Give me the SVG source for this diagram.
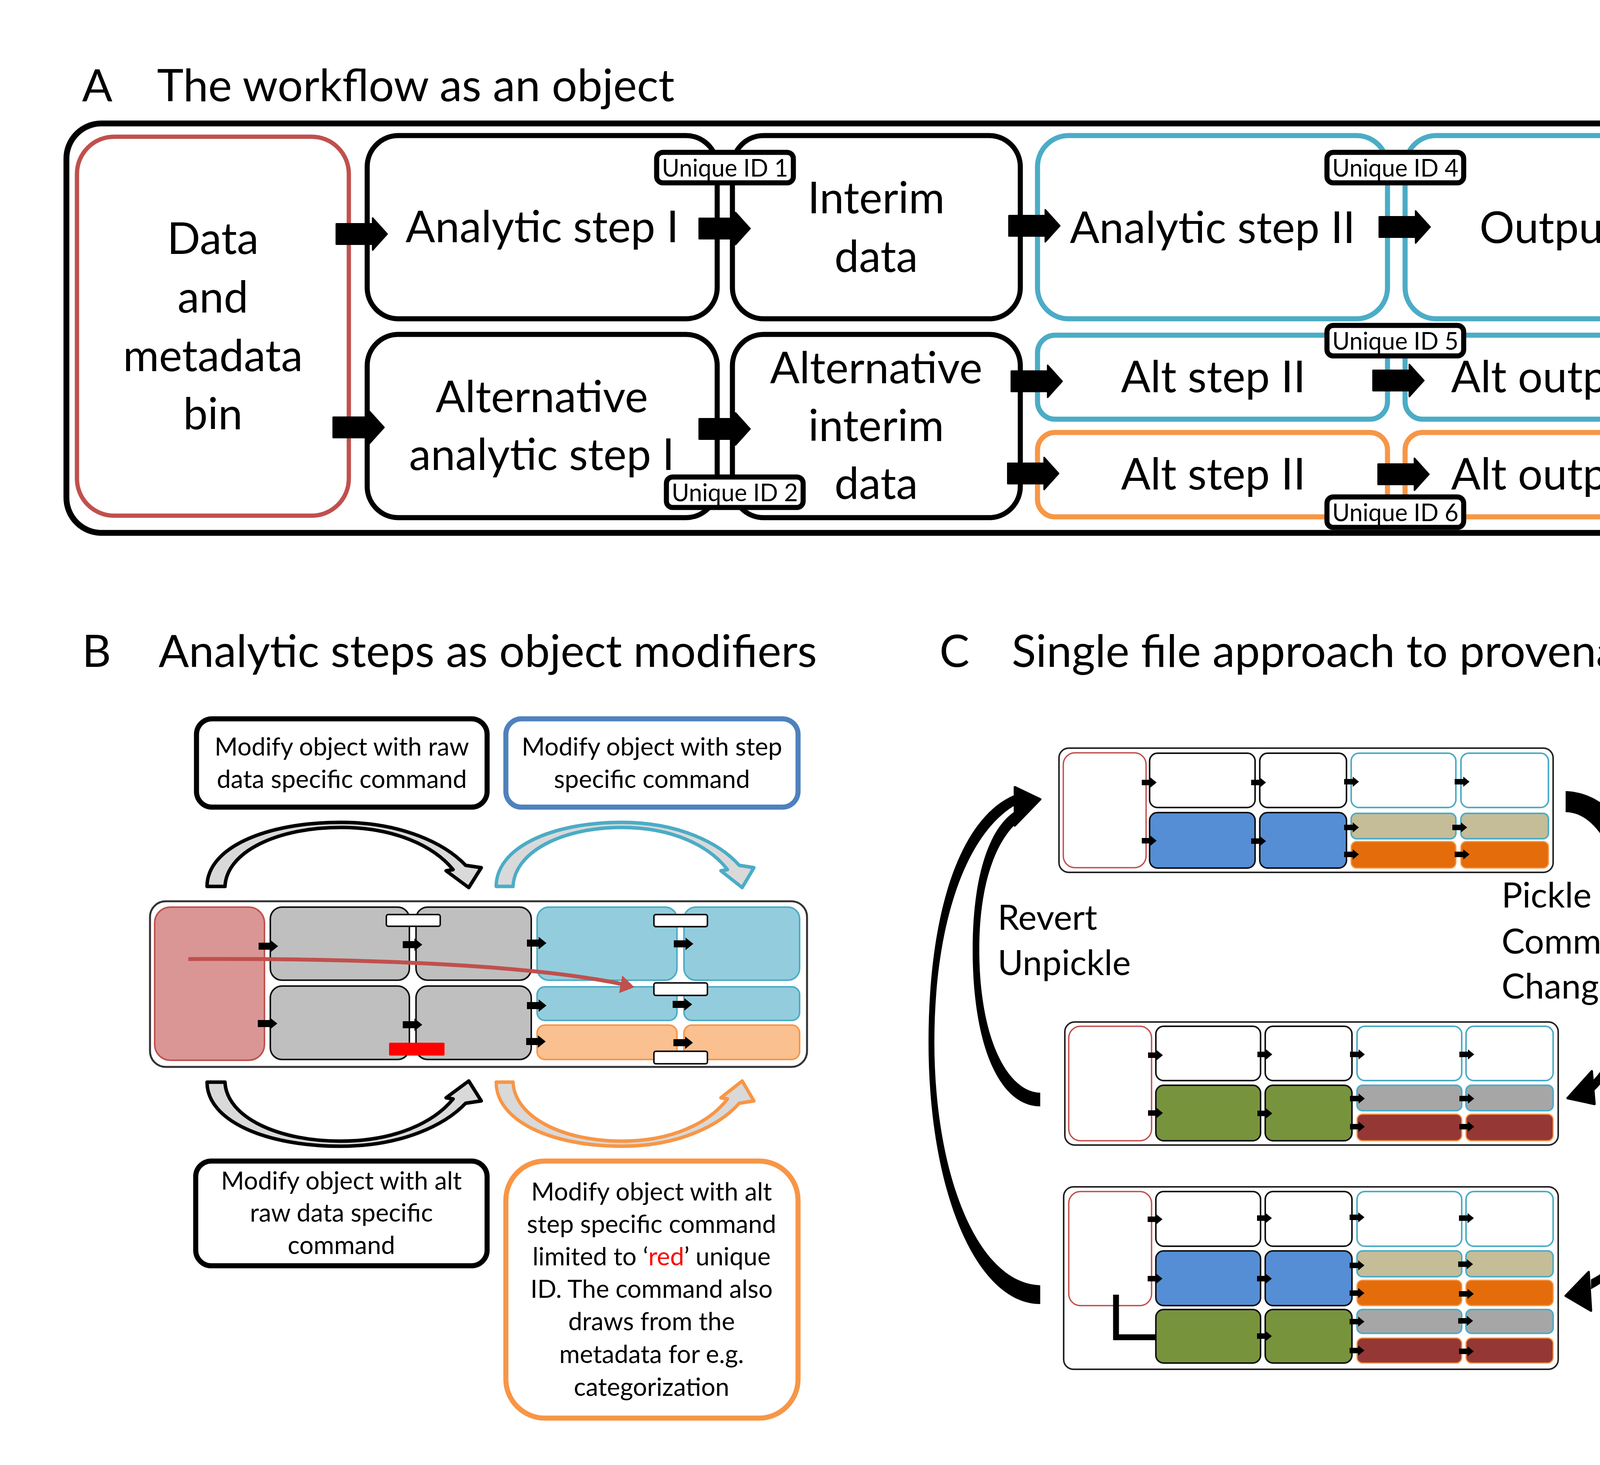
<svg xmlns="http://www.w3.org/2000/svg" xmlns:xlink="http://www.w3.org/1999/xlink" width="5000" height="3750" viewBox="0 0 5000 3750">
<style>
text{font-family:Lato,"Liberation Sans",sans-serif;fill:#000}
.h{font-size:115px}
.la{font-size:112px;text-anchor:middle}
.id{font-size:61px;text-anchor:middle}
.bt{font-size:64px;text-anchor:middle}
.ct{font-size:89px}
.bk{fill:#fff;stroke:#000;stroke-width:13}
.bl{fill:#fff;stroke:#4BACC6;stroke-width:13}
.or{fill:#fff;stroke:#F79646;stroke-width:13}
.rd{fill:#fff;stroke:#C0504D;stroke-width:11}
.idb{fill:#fff;stroke:#000;stroke-width:13}
.arr{fill:#000;stroke:#000;stroke-width:4;stroke-linejoin:round}
.mo{fill:#fff;stroke:#222;stroke-width:4}
.mr{fill:#fff;stroke:#C0504D;stroke-width:3.5}
.mk{fill:#fff;stroke:#111;stroke-width:4}
.mb{fill:#fff;stroke:#4BACC6;stroke-width:4}
.fblue{fill:#558ED5;stroke:#111;stroke-width:4}
.fgreen{fill:#77933C;stroke:#111;stroke-width:4}
.ftan{fill:#C4BD97;stroke:#4BACC6;stroke-width:4}
.fgray{fill:#A6A6A6;stroke:#4BACC6;stroke-width:4}
.forange{fill:#E46C0A;stroke:#F79646;stroke-width:3}
.fdred{fill:#953735;stroke:#F79646;stroke-width:3}
.sarr{fill:#000}
</style>
<defs>
<path id="bigArrow" d="M0 -26 H93 V-41 L130 0 L93 41 V26 H0 Z"/>
<path id="smArrow" d="M0 -9 H30 V-16 L50 0 L30 16 V9 H0 Z"/>
<path id="miArrow" d="M0 -7 H22 V-13 L38 0 L22 13 V7 H0 Z"/>
<path id="arc" d="M530 2269 C530 2170 680 2105 872 2105 C1030 2105 1140 2160 1192 2215 L1232 2221 L1200 2272 L1142 2229 L1160 2226 C1110 2165 1010 2118 872 2118 C710 2118 580 2180 576 2269 Z"/>
</defs>
<rect width="5000" height="3750" fill="#fff"/>

<!-- Panel A -->
<g id="panelA-title">
<text class="h" x="210" y="259">A</text>
<text class="h" x="402" y="259">The workflow as an object</text>
</g>
<g id="workflow-object">
<rect x="170" y="316" width="4208" height="1048" rx="90" fill="#fff" stroke="#000" stroke-width="15"/>
</g>
<g id="data-bin">
<rect class="rd" x="197" y="350" width="696" height="970" rx="95"/>
<text class="la" x="545" y="650">Data</text>
<text class="la" x="545" y="800">and</text>
<text class="la" x="545" y="950">metadata</text>
<text class="la" x="545" y="1099">bin</text>
</g>
<g id="analytic-step-1">
<rect class="bk" x="940" y="347" width="896" height="469" rx="80"/>
<text class="la" x="1388" y="620">Analytic step I</text>
</g>
<g id="interim-data">
<rect class="bk" x="1875" y="347" width="737" height="469" rx="80"/>
<text class="la" x="2243" y="546">Interim</text>
<text class="la" x="2243" y="696">data</text>
</g>
<g id="analytic-step-2">
<rect class="bl" x="2656" y="347" width="896" height="469" rx="80"/>
<text class="la" x="3104" y="622">Analytic step II</text>
</g>
<g id="output">
<rect class="bl" x="3597" y="347" width="736" height="469" rx="80"/>
<text class="la" x="3966" y="622">Output</text>
</g>
<g id="alt-analytic-step-1">
<rect class="bk" x="940" y="856" width="896" height="469" rx="80"/>
<text class="la" x="1387" y="1055">Alternative</text>
<text class="la" x="1387" y="1203">analytic step I</text>
</g>
<g id="alt-interim-data">
<rect class="bk" x="1875" y="856" width="737" height="469" rx="80"/>
<text class="la" x="2243" y="981">Alternative</text>
<text class="la" x="2243" y="1129">interim</text>
<text class="la" x="2243" y="1277">data</text>
</g>
<g id="alt-step-2-blue">
<rect class="bl" x="2656" y="858" width="896" height="215" rx="45"/>
<text class="la" x="3106" y="1004">Alt step II</text>
</g>
<g id="alt-output-blue">
<rect class="bl" x="3597" y="858" width="736" height="215" rx="45"/>
<text class="la" x="3966" y="1004">Alt output</text>
</g>
<g id="alt-step-2-orange">
<rect class="or" x="2656" y="1107" width="896" height="216" rx="45"/>
<text class="la" x="3106" y="1253">Alt step II</text>
</g>
<g id="alt-output-orange">
<rect class="or" x="3597" y="1107" width="736" height="216" rx="45"/>
<text class="la" x="3966" y="1253">Alt output</text>
</g>
<g id="connectors-A">
<use href="#bigArrow" class="arr" x="861" y="599"/>
<use href="#bigArrow" class="arr" x="853" y="1094"/>
<use href="#bigArrow" class="arr" x="1790" y="585"/>
<use href="#bigArrow" class="arr" x="1790" y="1098"/>
<use href="#bigArrow" class="arr" x="2583" y="578"/>
<use href="#bigArrow" class="arr" x="3531" y="581"/>
<use href="#bigArrow" class="arr" x="2589" y="976"/>
<use href="#bigArrow" class="arr" x="3515" y="974"/>
<use href="#bigArrow" class="arr" x="2580" y="1212"/>
<use href="#bigArrow" class="arr" x="3528" y="1214"/>
</g>
<g id="unique-id-1">
<rect class="idb" x="1681" y="390" width="350" height="78" rx="16"/>
<text class="id" x="1856" y="452">Unique ID 1</text>
</g>
<g id="unique-id-2">
<rect class="idb" x="1706" y="1221" width="350" height="78" rx="16"/>
<text class="id" x="1881" y="1283">Unique ID 2</text>
</g>
<g id="unique-id-4">
<rect class="idb" x="3397" y="390" width="350" height="78" rx="16"/>
<text class="id" x="3572" y="452">Unique ID 4</text>
</g>
<g id="unique-id-5">
<rect class="idb" x="3397" y="833" width="350" height="78" rx="16"/>
<text class="id" x="3572" y="895">Unique ID 5</text>
</g>
<g id="unique-id-6">
<rect class="idb" x="3397" y="1272" width="350" height="78" rx="16"/>
<text class="id" x="3572" y="1334">Unique ID 6</text>
</g>

<!-- Panel B -->
<g id="panelB-title">
<text class="h" x="210" y="1707">B</text>
<text class="h" x="406" y="1707">Analytic steps as object modifiers</text>
</g>
<g id="cmd-raw">
<rect x="503" y="1840" width="744" height="226" rx="40" fill="#fff" stroke="#000" stroke-width="13"/>
<text class="bt" x="875" y="1934">Modify object with raw</text>
<text class="bt" x="875" y="2017">data specific command</text>
</g>
<g id="cmd-step">
<rect x="1295" y="1840" width="748" height="226" rx="40" fill="#fff" stroke="#4F81BD" stroke-width="13"/>
<text class="bt" x="1669" y="1934">Modify object with step</text>
<text class="bt" x="1669" y="2017">specific command</text>
</g>
<g id="cmd-alt-raw">
<rect x="501" y="2972" width="746" height="268" rx="40" fill="#fff" stroke="#000" stroke-width="13"/>
<text class="bt" x="874" y="3045">Modify object with alt</text>
<text class="bt" x="874" y="3127">raw data specific</text>
<text class="bt" x="874" y="3210">command</text>
</g>
<g id="cmd-alt-step">
<rect x="1295" y="2972" width="748" height="658" rx="100" fill="#fff" stroke="#F79646" stroke-width="13"/>
<text class="bt" x="1668" y="3073">Modify object with alt</text>
<text class="bt" x="1668" y="3156">step specific command</text>
<text class="bt" x="1668" y="3239">limited to ‘<tspan fill="#FF0000">red</tspan>’ unique</text>
<text class="bt" x="1668" y="3322">ID. The command also</text>
<text class="bt" x="1668" y="3405">draws from the</text>
<text class="bt" x="1668" y="3489">metadata for e.g.</text>
<text class="bt" x="1668" y="3573">categorization</text>
</g>
<g id="object-B">
<rect x="384" y="2307" width="1682" height="424" rx="40" fill="#fff" stroke="#333" stroke-width="5"/>
<rect x="396" y="2322" width="281" height="392" rx="40" fill="#D99694" stroke="#C0504D" stroke-width="4"/>
<rect x="692" y="2322" width="356" height="187" rx="30" fill="#BFBFBF" stroke="#111" stroke-width="4"/>
<rect x="1065" y="2322" width="295" height="187" rx="30" fill="#BFBFBF" stroke="#111" stroke-width="4"/>
<rect x="692" y="2524" width="356" height="188" rx="30" fill="#BFBFBF" stroke="#111" stroke-width="4"/>
<rect x="1065" y="2524" width="295" height="188" rx="30" fill="#BFBFBF" stroke="#111" stroke-width="4"/>
<rect x="1375" y="2322" width="358" height="187" rx="30" fill="#93CDDD" stroke="#4BACC6" stroke-width="4"/>
<rect x="1751" y="2322" width="296" height="187" rx="30" fill="#93CDDD" stroke="#4BACC6" stroke-width="4"/>
<rect x="1375" y="2526" width="358" height="86" rx="20" fill="#93CDDD" stroke="#4BACC6" stroke-width="4"/>
<rect x="1751" y="2526" width="296" height="86" rx="20" fill="#93CDDD" stroke="#4BACC6" stroke-width="4"/>
<rect x="1375" y="2624" width="358" height="88" rx="20" fill="#FAC090" stroke="#F79646" stroke-width="4"/>
<rect x="1751" y="2624" width="296" height="88" rx="20" fill="#FAC090" stroke="#F79646" stroke-width="4"/>
<rect x="989" y="2341" width="138" height="30" rx="5" fill="#fff" stroke="#111" stroke-width="4"/>
<rect x="1674" y="2341" width="137" height="31" rx="5" fill="#fff" stroke="#111" stroke-width="4"/>
<rect x="1674" y="2516" width="137" height="32" rx="5" fill="#fff" stroke="#111" stroke-width="4"/>
<rect x="1674" y="2691" width="137" height="32" rx="5" fill="#fff" stroke="#111" stroke-width="4"/>
<rect x="996" y="2669" width="142" height="33" rx="3" fill="#FF0000"/>
</g>
<g id="connectors-B">
<use href="#smArrow" class="sarr" x="662" y="2422"/>
<use href="#smArrow" class="sarr" x="660" y="2620"/>
<use href="#smArrow" class="sarr" x="1031" y="2418"/>
<use href="#smArrow" class="sarr" x="1031" y="2623"/>
<use href="#smArrow" class="sarr" x="1349" y="2414"/>
<use href="#smArrow" class="sarr" x="1349" y="2574"/>
<use href="#smArrow" class="sarr" x="1347" y="2666"/>
<use href="#smArrow" class="sarr" x="1725" y="2416"/>
<use href="#smArrow" class="sarr" x="1722" y="2571"/>
<use href="#smArrow" class="sarr" x="1724" y="2669"/>
<path d="M482 2455 C900 2452 1350 2468 1592 2519" fill="none" stroke="#C0504D" stroke-width="10"/>
<polygon points="1624,2527 1593,2497 1585,2542" fill="#C0504D"/>
<use href="#arc" fill="#D9D9D9" stroke="#000" stroke-width="9" stroke-linejoin="round"/>
<use href="#arc" transform="translate(772,0) scale(0.94,1)" fill="#D9D9D9" stroke="#4BACC6" stroke-width="9" stroke-linejoin="round"/>
<use href="#arc" transform="translate(0,5039) scale(1,-1)" fill="#D9D9D9" stroke="#000" stroke-width="9" stroke-linejoin="round"/>
<use href="#arc" transform="translate(772,5039) scale(0.94,-1)" fill="#D9D9D9" stroke="#F79646" stroke-width="9" stroke-linejoin="round"/>
</g>

<!-- Panel C -->
<g id="panelC-title">
<text class="h" x="2405" y="1707">C</text>
<text class="h" x="2590" y="1707">Single file approach to provenance</text>
</g>
<g id="mini-1" transform="translate(2711,1915)">
<rect class="mo" x="0" y="0" width="1265" height="318" rx="25"/>
<rect class="mr" x="11" y="12" width="212" height="294" rx="30"/>
<rect class="mk" x="232" y="13" width="270" height="139" rx="20"/>
<rect class="mk" x="514" y="13" width="222" height="139" rx="20"/>
<rect class="mb" x="748" y="13" width="268" height="139" rx="20"/>
<rect class="mb" x="1029" y="13" width="224" height="139" rx="20"/>
<rect class="fblue" x="232" y="165" width="270" height="142" rx="20"/>
<rect class="fblue" x="514" y="165" width="222" height="142" rx="20"/>
<rect class="ftan" x="748" y="167" width="268" height="65" rx="14"/>
<rect class="ftan" x="1029" y="167" width="224" height="65" rx="14"/>
<rect class="forange" x="748" y="239" width="268" height="68" rx="14"/>
<rect class="forange" x="1029" y="239" width="224" height="68" rx="14"/>
<use href="#miArrow" class="sarr" x="212" y="88"/>
<use href="#miArrow" class="sarr" x="492" y="88"/>
<use href="#miArrow" class="sarr" x="730" y="86"/>
<use href="#miArrow" class="sarr" x="1013" y="86"/>
<use href="#miArrow" class="sarr" x="212" y="237"/>
<use href="#miArrow" class="sarr" x="492" y="238"/>
<use href="#miArrow" class="sarr" x="730" y="203"/>
<use href="#miArrow" class="sarr" x="1007" y="203"/>
<use href="#miArrow" class="sarr" x="730" y="272"/>
<use href="#miArrow" class="sarr" x="1013" y="272"/>
</g>
<g id="mini-2" transform="translate(2726,2616)">
<rect class="mo" x="0" y="0" width="1263" height="315" rx="25"/>
<rect class="mr" x="10" y="11" width="212" height="293" rx="30"/>
<rect class="mk" x="233" y="11" width="268" height="139" rx="20"/>
<rect class="mk" x="513" y="11" width="222" height="139" rx="20"/>
<rect class="mb" x="748" y="11" width="268" height="139" rx="20"/>
<rect class="mb" x="1027" y="11" width="223" height="139" rx="20"/>
<rect class="fgreen" x="233" y="162" width="268" height="142" rx="20"/>
<rect class="fgreen" x="513" y="162" width="222" height="142" rx="20"/>
<rect class="fgray" x="748" y="162" width="268" height="65" rx="14"/>
<rect class="fgray" x="1027" y="162" width="223" height="65" rx="14"/>
<rect class="fdred" x="748" y="236" width="268" height="68" rx="14"/>
<rect class="fdred" x="1027" y="236" width="223" height="68" rx="14"/>
<use href="#miArrow" class="sarr" x="213" y="85"/>
<use href="#miArrow" class="sarr" x="493" y="83"/>
<use href="#miArrow" class="sarr" x="730" y="83"/>
<use href="#miArrow" class="sarr" x="1010" y="83"/>
<use href="#miArrow" class="sarr" x="213" y="233"/>
<use href="#miArrow" class="sarr" x="493" y="234"/>
<use href="#miArrow" class="sarr" x="730" y="196"/>
<use href="#miArrow" class="sarr" x="1010" y="196"/>
<use href="#miArrow" class="sarr" x="730" y="268"/>
<use href="#miArrow" class="sarr" x="1010" y="268"/>
</g>
<g id="mini-3" transform="translate(2723,3038)">
<rect class="mo" x="0" y="0" width="1266" height="467" rx="25"/>
<rect class="mr" x="13" y="12" width="212" height="292" rx="30"/>
<rect class="mk" x="236" y="12" width="268" height="140" rx="20"/>
<rect class="mk" x="516" y="12" width="222" height="140" rx="20"/>
<rect class="mb" x="751" y="12" width="268" height="140" rx="20"/>
<rect class="mb" x="1030" y="12" width="223" height="140" rx="20"/>
<rect class="fblue" x="236" y="164" width="268" height="140" rx="20"/>
<rect class="fblue" x="516" y="164" width="222" height="140" rx="20"/>
<rect class="ftan" x="751" y="164" width="268" height="66" rx="14"/>
<rect class="ftan" x="1030" y="164" width="223" height="66" rx="14"/>
<rect class="forange" x="751" y="239" width="268" height="65" rx="14"/>
<rect class="forange" x="1030" y="239" width="223" height="65" rx="14"/>
<rect class="fgreen" x="236" y="314" width="268" height="137" rx="20"/>
<rect class="fgreen" x="516" y="314" width="222" height="137" rx="20"/>
<rect class="fgray" x="751" y="314" width="268" height="61" rx="14"/>
<rect class="fgray" x="1030" y="314" width="223" height="61" rx="14"/>
<rect class="fdred" x="751" y="387" width="268" height="64" rx="14"/>
<rect class="fdred" x="1030" y="387" width="223" height="64" rx="14"/>
<path d="M134 276 V385 H236" fill="none" stroke="#000" stroke-width="15"/>
<use href="#miArrow" class="sarr" x="215" y="83"/>
<use href="#miArrow" class="sarr" x="495" y="80"/>
<use href="#miArrow" class="sarr" x="732" y="78"/>
<use href="#miArrow" class="sarr" x="1012" y="80"/>
<use href="#miArrow" class="sarr" x="215" y="235"/>
<use href="#miArrow" class="sarr" x="495" y="235"/>
<use href="#miArrow" class="sarr" x="732" y="201"/>
<use href="#miArrow" class="sarr" x="1010" y="198"/>
<use href="#miArrow" class="sarr" x="732" y="272"/>
<use href="#miArrow" class="sarr" x="1012" y="274"/>
<use href="#miArrow" class="sarr" x="495" y="382"/>
<use href="#miArrow" class="sarr" x="732" y="345"/>
<use href="#miArrow" class="sarr" x="1010" y="343"/>
<use href="#miArrow" class="sarr" x="732" y="419"/>
<use href="#miArrow" class="sarr" x="1012" y="421"/>
</g>
<g id="connectors-C">
<path d="M2663 2832 L2663 2797 C2580 2795 2507 2660 2507 2430 C2507 2260 2550 2150 2610 2100 L2610 2070 C2530 2110 2490 2250 2490 2430 C2490 2680 2560 2832 2663 2832 Z" fill="#000"/>
<path d="M2663 3338 L2663 3290 C2500 3285 2392 3000 2392 2668 C2392 2350 2480 2120 2610 2055 L2610 2030 C2460 2080 2377 2330 2377 2668 C2377 3050 2500 3338 2663 3338 Z" fill="#000"/>
<polygon points="2598,2015 2663,2046 2598,2113" fill="#000" stroke="#000" stroke-width="6" stroke-linejoin="round"/>
<path d="M4008 2025 L4008 2079 C4100 2079 4168 2230 4168 2428 C4168 2600 4125 2720 4078 2765 L4078 2795 C4135 2745 4181 2620 4181 2428 C4181 2200 4110 2030 4008 2025 Z" fill="#000"/>
<path d="M4008 2025 C4190 2030 4295 2330 4295 2668 C4295 2990 4210 3230 4073 3300 L4073 3275 C4190 3220 4280 2990 4280 2668 C4280 2360 4180 2130 4040 2079 L4008 2079 Z" fill="#000"/>
<polygon points="4075,2742 4013,2811 4082,2826" fill="#000" stroke="#000" stroke-width="6" stroke-linejoin="round"/>
<polygon points="4067,3256 4008,3317 4073,3355" fill="#000" stroke="#000" stroke-width="6" stroke-linejoin="round"/>
</g>
<g id="labels-C">
<text class="ct" x="2554" y="2380">Revert</text>
<text class="ct" x="2554" y="2496">Unpickle</text>
<text class="ct" x="3844" y="2323">Pickle</text>
<text class="ct" x="3844" y="2441">Commit</text>
<text class="ct" x="3844" y="2556">Change</text>
<text class="ct" x="4327" y="2564">Pickle</text>
<text class="ct" x="4327" y="2679">Commit</text>
<text class="ct" x="4327" y="2797">Fork</text>
</g>
</svg>
